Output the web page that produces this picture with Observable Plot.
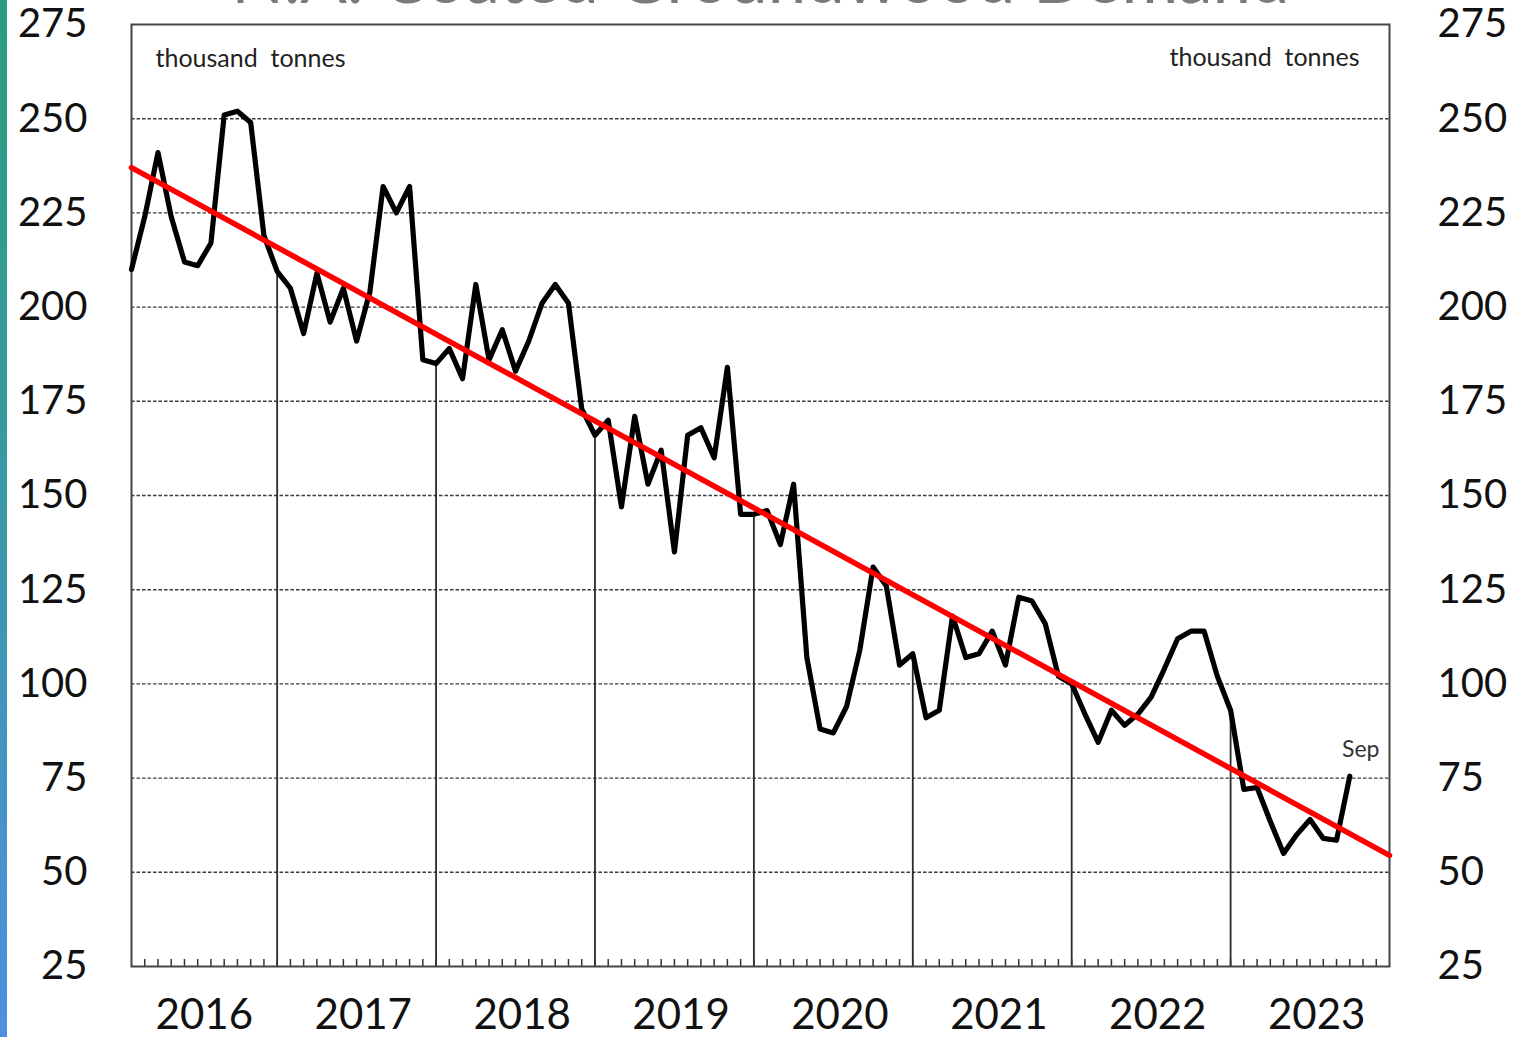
<!DOCTYPE html>
<html>
<head>
<meta charset="utf-8">
<script src="https://cdn.jsdelivr.net/npm/d3@7"></script>
<script src="https://cdn.jsdelivr.net/npm/@observablehq/plot@0.6"></script>
<style>
  html, body { margin: 0; padding: 0; background: #fff; overflow: hidden; }
  #wrap { position: relative; width: 1514px; height: 1037px; }
  #stripe { position: absolute; left: 0; top: 0; width: 7px; height: 1037px;
    background: linear-gradient(to bottom, #2a9d7c 0%, #3a98a8 50%, #4f8fe0 100%); }
  #chart { position: absolute; left: 0; top: 0; }
  svg { overflow: visible; }
</style>
</head>
<body>
<div id="wrap"><div id="chart"></div><div id="stripe"></div></div>
<script>
// ---- data ----
const title = "N.A. Coated Groundwood Demand";
const unitLabel = "thousand  tonnes";
const startYear = 2016;
const monthNames = ["Jan","Feb","Mar","Apr","May","Jun","Jul","Aug","Sep","Oct","Nov","Dec"];
// monthly demand, thousand tonnes, Jan 2016 .. Sep 2023
const demand = [
  210, 224, 241, 224, 212, 211, 217, 251, 252, 249, 219, 209.5,
  205, 193, 209, 196, 205, 191, 204, 232, 225, 232, 186, 185,
  189, 181, 206, 186, 194, 183, 191, 201, 206, 201, 173, 166,
  170, 147, 171, 153, 162, 135, 166, 168, 160, 184, 145, 145,
  146, 137, 153, 107, 88, 87, 94, 109, 131, 126, 105, 108,
  91, 93, 118, 107, 108, 114, 105, 123, 122, 116, 102, 100,
  92, 84.5, 93, 89, 92, 96.5, 104, 112, 114, 114, 102, 93,
  72, 72.5, 63.5, 55, 60, 64, 59, 58.5, 75.5
];
const years = [2016, 2017, 2018, 2019, 2020, 2021, 2022, 2023];
const yTicks = [25, 50, 75, 100, 125, 150, 175, 200, 225, 250, 275];
const gridValues = [50, 75, 100, 125, 150, 175, 200, 225, 250];
// linear trend line endpoints (month index, value)
const trendIndex = [0, 95];
const trendValue = [237, 54.5];

// ---- derived tables ----
const series = demand.map((v, i) => ({i, v, month: monthNames[i % 12], year: startYear + Math.floor(i / 12)}));
const trend = trendIndex.map((i, k) => ({i, v: trendValue[k]}));
const nMonths = years.length * 12 - 1; // axis runs Jan 2016 .. Dec 2023
const decPoints = series.filter(d => d.month === "Dec");
const minorTicks = d3.range(1, nMonths);
const last = series[series.length - 1];

const chart = Plot.plot({
  width: 1514,
  height: 1037,
  marginLeft: 131,
  marginRight: 125,
  marginTop: 24,
  marginBottom: 71,
  style: {fontFamily: "Lato, 'Open Sans', sans-serif", background: "transparent", color: "#111"},
  x: {domain: [0, nMonths], axis: null},
  y: {domain: [25, 275], axis: null},
  marks: [
    Plot.ruleY(gridValues, {stroke: "#3a3a3a", strokeWidth: 1.4, strokeDasharray: "3.5,2"}),
    Plot.ruleX(decPoints, {x: "i", y1: 25, y2: "v", stroke: "#2a2a2a", strokeWidth: 1.8}),
    Plot.axisX({anchor: "bottom", ticks: minorTicks, tickSize: 7, dy: -7, tickFormat: () => "", label: null, stroke: "#333", strokeWidth: 1.5}),
    Plot.frame({stroke: "#454545", strokeWidth: 2}),
    Plot.line(series, {x: "i", y: "v", stroke: "#000", strokeWidth: 5.2, strokeLinejoin: "round"}),
    Plot.line(trend, {x: "i", y: "v", stroke: "#ff0000", strokeWidth: 5.5}),
    Plot.axisY({anchor: "left", ticks: yTicks, tickSize: 0, tickPadding: 44, fontSize: 40, fill: "#111", label: null}),
    Plot.axisY({anchor: "right", ticks: yTicks, tickSize: 0, tickPadding: 48, fontSize: 40, fill: "#111", label: null}),
    Plot.text(years, {x: d => (d - startYear) * 12 + 5.5, y: 25, dy: 49, text: d => String(d), fontSize: 42, fill: "#111", lineAnchor: "middle"}),
    Plot.text([unitLabel], {frameAnchor: "top-left", dx: 24, dy: 34, fontSize: 25, fill: "#222", textAnchor: "start", lineAnchor: "middle"}),
    Plot.text([unitLabel], {frameAnchor: "top-right", dx: -30, dy: 33, fontSize: 25, fill: "#222", textAnchor: "end", lineAnchor: "middle"}),
    Plot.text([last], {x: "i", y: "v", text: d => d.month, dx: 11, dy: -27, fontSize: 23, fill: "#333", lineAnchor: "middle"}),
    Plot.text([title], {frameAnchor: "top", dx: 0, dy: -22, fontSize: 69, fill: "#7a7a7a", lineAnchor: "bottom"})
  ]
});
document.getElementById("chart").appendChild(chart);
</script>
</body>
</html>
